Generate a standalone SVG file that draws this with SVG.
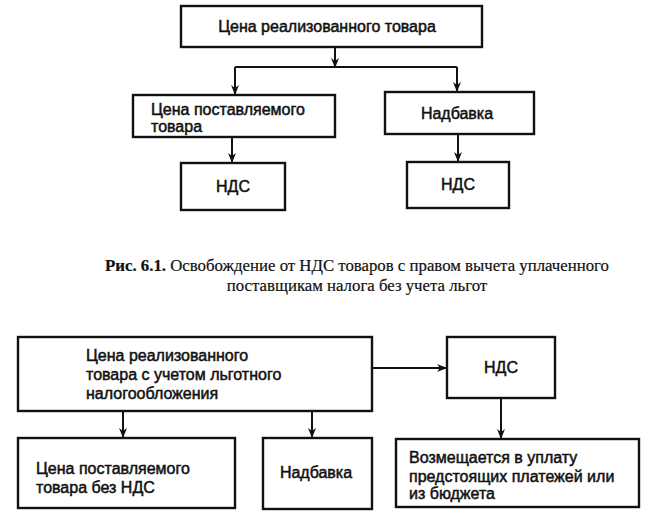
<svg xmlns="http://www.w3.org/2000/svg" width="661" height="517" viewBox="0 0 661 517">
<defs>
<marker id="ah" markerWidth="10" markerHeight="12" refX="9" refY="5" orient="auto" markerUnits="userSpaceOnUse">
<path d="M0,1 L10,5 L0,9 L3,5 Z" fill="#111"/>
</marker>
<style>
.box{fill:#fff;stroke:#111;stroke-width:2.4}
.t{font-family:"Liberation Sans",Arial,sans-serif;font-size:16px;fill:#111;stroke:#111;stroke-width:0.5}
.c{text-anchor:middle}
.cap{font-family:"Liberation Serif","Times New Roman",serif;font-size:16.8px;fill:#111;text-anchor:middle;stroke:#111;stroke-width:0.2}
.ln{fill:none;stroke:#111;stroke-width:2}
.ar{fill:none;stroke:#111;stroke-width:2;marker-end:url(#ah)}
</style>
</defs>
<rect width="661" height="517" fill="#fff"/>
<g id="connectors">
<line class="ar" x1="335" y1="47" x2="335" y2="67"/>
<line class="ln" x1="235" y1="67" x2="457" y2="67"/>
<line class="ar" x1="235" y1="67" x2="235" y2="94"/>
<line class="ar" x1="457" y1="67" x2="457" y2="91"/>
<line class="ar" x1="232" y1="137" x2="232" y2="162"/>
<line class="ar" x1="458" y1="134" x2="458" y2="161"/>
<line class="ar" x1="372" y1="368" x2="446" y2="368"/>
<line class="ar" x1="501" y1="398" x2="501" y2="438"/>
<line class="ar" x1="123" y1="411" x2="123" y2="437"/>
<line class="ar" x1="312" y1="411" x2="312" y2="437"/>
</g>
<g id="top">
<rect class="box" x="181" y="6" width="301" height="41"/>
<text class="t c" x="327" y="32">Цена реализованного товара</text>
</g>
<g id="supplied">
<rect class="box" x="133" y="95" width="202" height="42"/>
<text class="t" x="151" y="115">Цена поставляемого</text>
<text class="t" x="151" y="132">товара</text>
</g>
<g id="markup">
<rect class="box" x="385" y="92" width="149" height="42"/>
<text class="t c" x="457" y="119">Надбавка</text>
</g>
<g id="vat1">
<rect class="box" x="181" y="163" width="104" height="47"/>
<text class="t c" x="233" y="192">НДС</text>
</g>
<g id="vat2">
<rect class="box" x="407" y="162" width="102" height="46"/>
<text class="t c" x="458" y="190">НДС</text>
</g>
<g id="caption">
<text class="cap" x="357" y="271"><tspan font-weight="bold">Рис. 6.1.</tspan> Освобождение от НДС товаров с правом вычета уплаченного</text>
<text class="cap" x="357" y="291">поставщикам налога без учета льгот</text>
</g>
<g id="main2">
<rect class="box" x="18" y="337" width="354" height="74"/>
<text class="t" x="86" y="361">Цена реализованного</text>
<text class="t" x="86" y="380">товара с учетом льготного</text>
<text class="t" x="86" y="399">налогообложения</text>
</g>
<g id="vat3">
<rect class="box" x="447" y="337" width="108" height="61"/>
<text class="t c" x="501" y="373">НДС</text>
</g>
<g id="supplied2">
<rect class="box" x="18" y="438" width="217" height="70"/>
<text class="t" x="36" y="474">Цена поставляемого</text>
<text class="t" x="36" y="493">товара без НДС</text>
</g>
<g id="markup2">
<rect class="box" x="263" y="438" width="109" height="71"/>
<text class="t c" x="316" y="478">Надбавка</text>
</g>
<g id="refund">
<rect class="box" x="396" y="439" width="243" height="68"/>
<text class="t" x="409" y="463">Возмещается в уплату</text>
<text class="t" x="409" y="482">предстоящих платежей или</text>
<text class="t" x="409" y="499">из бюджета</text>
</g>
</svg>
